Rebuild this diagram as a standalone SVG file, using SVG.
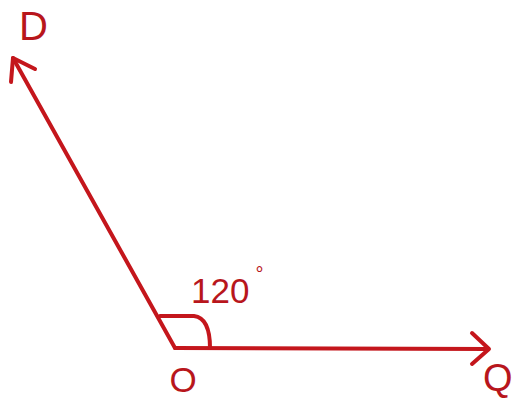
<svg xmlns="http://www.w3.org/2000/svg" width="514" height="400" viewBox="0 0 514 400">
<style>
.ray{stroke:#c4161c;stroke-width:4;fill:none;stroke-linecap:round;stroke-linejoin:round}
.lbl{font-family:"Liberation Sans",Arial,sans-serif;fill:#b8161c}
</style>
<rect width="514" height="400" fill="#ffffff"/>
<g id="connectors">
<path class="ray" d="M175 348 L13 58"/>
<path class="ray" d="M35 69 L13 58 L11 82"/>
<path class="ray" d="M175 348 L488 349"/>
<path class="ray" d="M472 333 L489 349 L472 364"/>
<path class="ray" d="M160 316 H194 Q210 318 210 348" stroke-width="3.5"/>
</g>
<g id="D"><text class="lbl" x="19" y="40" font-size="40">D</text></g>
<g id="O"><text class="lbl" x="183" y="392" font-size="35" text-anchor="middle">O</text></g>
<g id="Q"><text class="lbl" x="483" y="391" font-size="38">Q</text></g>
<g id="angle"><text class="lbl" x="191" y="303" font-size="35">120<tspan font-size="20" dx="6" dy="-22">°</tspan></text></g>
</svg>
